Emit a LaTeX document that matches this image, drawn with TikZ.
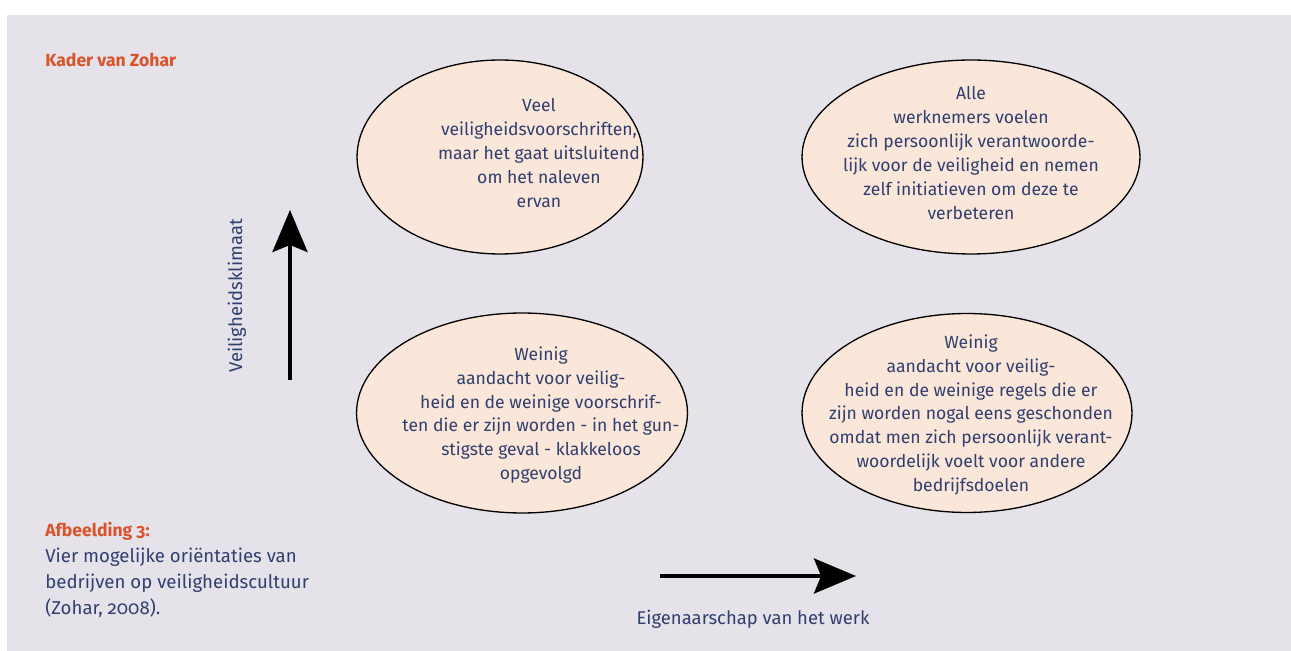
\documentclass[tikz,border=0pt]{standalone}
\usepackage{fontspec}
\setmainfont{Fira Sans}[Numbers=OldStyle]
\usetikzlibrary{arrows.meta,shapes.geometric}

\definecolor{kaderbg}{HTML}{E5E2EA}
\definecolor{peach}{HTML}{FBE6DA}
\definecolor{kaderorange}{HTML}{D9542B}
\definecolor{navy}{HTML}{2F3F6E}

\begin{document}
\begin{tikzpicture}[x=0.02cm, y=-0.02cm]
    % Style definitions (one unit is one pixel of the page)
    \tikzset{
        % ellipse of one quadrant
        quadrant/.style 2 args={ellipse, draw=black, line width=0.75pt,
            fill=peach, minimum width=#1, minimum height=#2, inner sep=0pt},
        % text inside the ellipses
        txt/.style={align=center, text=navy, inner sep=0pt,
            font=\fontsize{10}{13.6}\selectfont},
        % orange headings
        heading/.style={anchor=west, text=kaderorange, inner sep=0pt,
            font=\fontsize{10}{13.6}\selectfont\bfseries},
        % thick axis arrows
        axis/.style={line width=2.3pt,
            -{Stealth[length=0.84cm, width=0.7cm, inset=0.14cm]}}
    }
    % Page and background
    \useasboundingbox (0,0) rectangle (1291,651);
    \fill[kaderbg] (7,15) rectangle (1291,651);

    % Headings
    \node[heading] (title) at (45,60) {Kader van Zohar};
    \node[heading] (fig) at (45,531) {Afbeelding 3:};
    \node[txt, anchor=north west, align=left,
        font=\fontsize{10.6}{14.8}\selectfont] (caption) at (45,548)
        {Vier mogelijke oriëntaties van\\bedrijven op veiligheidscultuur\\(Zohar, 2008).};

    % Upper row of quadrants
    \node[quadrant={5.72cm}{3.88cm}] (Q1) at (500,157) {};
    \node[txt] (Q1 text) at (539,153) {Veel\\veiligheidsvoorschriften,\\maar het gaat uitsluitend\\om het naleven\\ervan};

    \node[quadrant={6.76cm}{3.88cm}] (Q2) at (971,157) {};
    \node[txt] (Q2 text) at (971,153) {Alle\\werknemers voelen\\zich persoonlijk verantwoorde-\\lijk voor de veiligheid en nemen\\zelf initiatieven om deze te\\verbeteren};

    % Lower row of quadrants
    \node[quadrant={6.62cm}{4.0cm}] (Q3) at (522,413) {};
    \node[txt] (Q3 text) at (541,415) {Weinig\\aandacht voor veilig-\\heid en de weinige voorschrif-\\ten die er zijn worden - in het gun-\\stigste geval - klakkeloos\\opgevolgd};

    \node[quadrant={6.6cm}{3.98cm}] (Q4) at (967,413) {};
    \node[txt] (Q4 text) at (971,415) {Weinig\\aandacht voor veilig-\\heid en de weinige regels die er\\zijn worden nogal eens geschonden\\omdat men zich persoonlijk verant-\\woordelijk voelt voor andere\\bedrijfsdoelen};

    % Axes
    \coordinate (up start) at (290,380);
    \coordinate (up end) at (290,210);
    \coordinate (right start) at (660,576);
    \coordinate (right end) at (856,576);
    \draw[axis] (up start) -- (up end);
    \draw[axis] (right start) -- (right end);

    % Axis labels
    \node[txt, rotate=90, font=\fontsize{10.5}{13.6}\selectfont] (climate) at (237,296) {Veiligheidsklimaat};
    \node[txt, font=\fontsize{10.5}{13.6}\selectfont] (ownership) at (753,619) {Eigenaarschap van het werk};
\end{tikzpicture}
\end{document}
